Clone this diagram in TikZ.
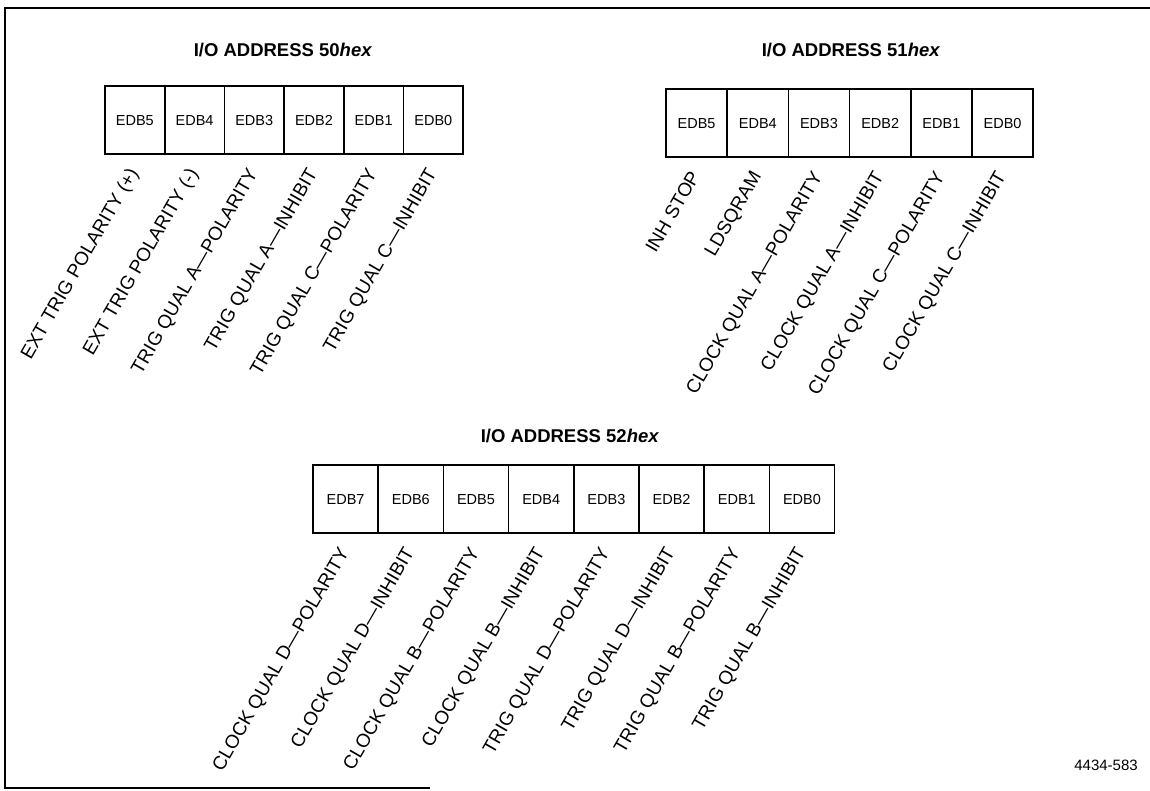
\documentclass[tikz,border=0pt]{standalone}
\usepackage{fontspec}
\setmainfont{Liberation Sans}
\usetikzlibrary{positioning}

\begin{document}
\begin{tikzpicture}[
        x=1pt, y=1pt,
        regtitle/.style={anchor=base, font=\fontsize{18.5}{22}\selectfont\bfseries},
        bitbox/.style={draw, line width=1.6pt, outer sep=0pt, inner sep=0pt, minimum height=68pt, text height=10.5pt, text depth=0pt, font=\fontsize{14.5}{17}\selectfont},
        bitname/.style={anchor=base east, rotate=60, inner sep=0pt, font=\fontsize{19}{22}\selectfont},
    ]
    \useasboundingbox (0,0) rectangle (1150,790);

    % Frame
    \draw[line width=2.4pt] (1150,782) -- (5,782) -- (5,2) -- (430,2);

    % I/O address 50
    \node[regtitle] (title50) at (283,733) {I/O ADDRESS 50\textit{hex}};
    \node[bitbox, minimum width=59.7pt, anchor=north west] (r50b5) at (105,704) {EDB5};
    \foreach \b/\p in {4/5,3/4,2/3,1/2,0/1}
        \node[bitbox, minimum width=59.7pt, right=0pt of r50b\p] (r50b\b) {EDB\b};
    \foreach \b/\txt in {5/EXT TRIG POLARITY (+), 4/EXT TRIG POLARITY (-),
            3/TRIG QUAL A---POLARITY, 2/TRIG QUAL A---INHIBIT,
            1/TRIG QUAL C---POLARITY, 0/TRIG QUAL C---INHIBIT}
        \node[bitname] (n50b\b) at ([shift={(4,-19)}]r50b\b.south) {\txt};

    % I/O address 51
    \node[regtitle] (title51) at (851,733) {I/O ADDRESS 51\textit{hex}};
    \node[bitbox, minimum width=61.2pt, anchor=north west] (r51b5) at (666,701) {EDB5};
    \foreach \b/\p in {4/5,3/4,2/3,1/2,0/1}
        \node[bitbox, minimum width=61.2pt, right=0pt of r51b\p] (r51b\b) {EDB\b};
    \foreach \b/\txt in {5/INH STOP, 4/LDSQRAM,
            3/CLOCK QUAL A---POLARITY, 2/CLOCK QUAL A---INHIBIT,
            1/CLOCK QUAL C---POLARITY, 0/CLOCK QUAL C---INHIBIT}
        \node[bitname] (n51b\b) at ([shift={(4,-19)}]r51b\b.south) {\txt};

    % I/O address 52
    \node[regtitle] (title52) at (570,347) {I/O ADDRESS 52\textit{hex}};
    \node[bitbox, minimum width=65.2pt, anchor=north west] (r52b7) at (313,325) {EDB7};
    \foreach \b/\p in {6/7,5/6,4/5,3/4,2/3,1/2,0/1}
        \node[bitbox, minimum width=65.2pt, right=0pt of r52b\p] (r52b\b) {EDB\b};
    \foreach \b/\txt in {7/CLOCK QUAL D---POLARITY, 6/CLOCK QUAL D---INHIBIT,
            5/CLOCK QUAL B---POLARITY, 4/CLOCK QUAL B---INHIBIT,
            3/TRIG QUAL D---POLARITY, 2/TRIG QUAL D---INHIBIT,
            1/TRIG QUAL B---POLARITY, 0/TRIG QUAL B---INHIBIT}
        \node[bitname] (n52b\b) at ([shift={(4,-19)}]r52b\b.south) {\txt};

    % Figure number
    \node[anchor=base, font=\fontsize{15}{18}\selectfont] (fignum) at (1106,20) {4434-583};
\end{tikzpicture}
\end{document}
